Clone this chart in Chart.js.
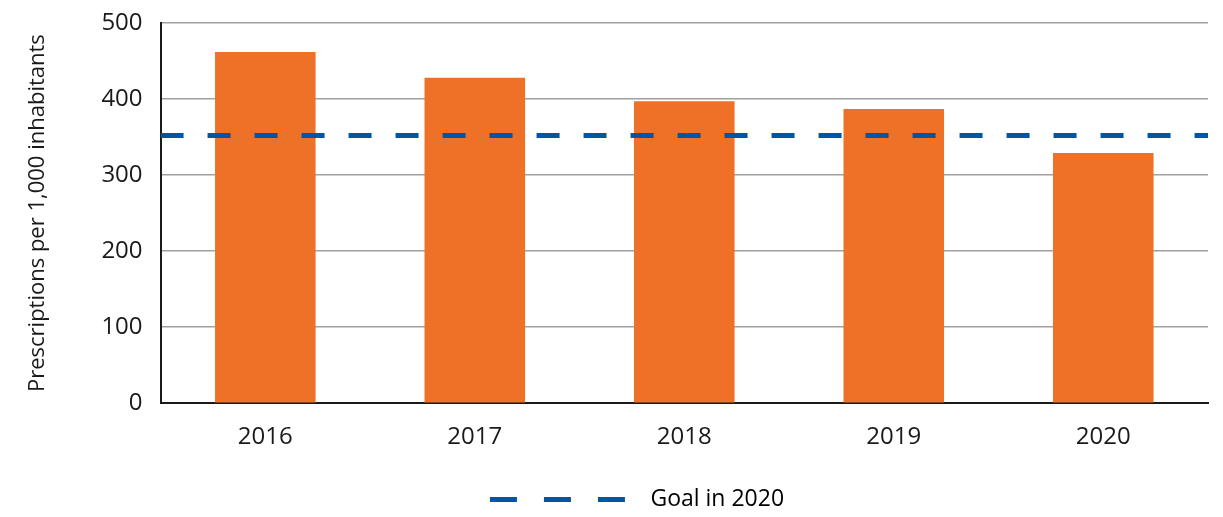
<!DOCTYPE html>
<html lang="en">
<head>
  <meta charset="UTF-8">
  <title>Prescriptions per 1,000 inhabitants</title>
  <style>
    html, body { margin: 0; padding: 0; background: #fff; }
    #wrap { width: 1223px; height: 517px; }
  </style>
</head>
<body>

<div id="wrap">
  <canvas id="myChart"></canvas>
</div>

<script src="https://cdn.jsdelivr.net/npm/chart.js"></script>

<script>
  const years = ['2016', '2017', '2018', '2019', '2020'];
  const prescriptions = [462, 428, 397, 387, 329];
  const goal2020 = 352;
  const yTicks = [0, 100, 200, 300, 400, 500];
  const goalLabel = 'Goal in 2020';
  const yTitle = 'Prescriptions per 1,000 inhabitants';

  const orange = '#ee7127';
  const blue = '#0055a4';
  const ink = '#1a1a1a';
  const tickFont = { family: 'Open Sans', size: 24 };

  const data = {
    labels: years,
    datasets: [
      {
        type: 'bar',
        label: 'Prescriptions',
        data: prescriptions,
        backgroundColor: orange,
        grouped: false,
        categoryPercentage: 1,
        barPercentage: 0.48,
        order: 2
      },
      {
        // goal spans the full plot width, so it sits on a hidden 0..1 axis
        type: 'line',
        label: goalLabel,
        xAxisID: 'x2',
        data: [{ x: 0, y: goal2020 }, { x: 1, y: goal2020 }],
        borderColor: blue,
        borderWidth: 5,
        borderDash: [23, 24],
        pointRadius: 0,
        fill: false,
        order: 1
      }
    ]
  };

  const ctx = document.getElementById('myChart').getContext('2d');
  const myChart = new Chart(ctx, {
    type: 'bar',
    data: data,
    options: {
      responsive: true,
      maintainAspectRatio: false,
      animation: false,
      layout: { padding: { top: 23, right: 15, left: 25, bottom: -4 } },
      scales: {
        x: {
          type: 'category',
          grid: { display: false },
          border: { color: ink, width: 2 },
          ticks: { color: ink, font: tickFont, padding: 12 },
          // extra room between the year labels and the legend
          afterFit: axis => { axis.height += 22; }
        },
        x2: {
          type: 'linear',
          min: 0,
          max: 1,
          offset: false,
          display: false
        },
        y: {
          min: 0,
          max: 500,
          afterBuildTicks: axis => { axis.ticks = yTicks.map(v => ({ value: v })); },
          // let the "500" label overhang the top instead of pushing the plot down
          afterFit: axis => { axis.paddingTop = 0; axis.paddingBottom = 0; },
          grid: { color: '#a0a0a0', lineWidth: 1.5, drawTicks: false },
          border: { color: ink, width: 2 },
          ticks: { color: ink, font: tickFont, padding: 18 },
          title: {
            display: true,
            text: yTitle,
            color: ink,
            font: { family: 'Open Sans', size: 22 },
            padding: { top: 0, bottom: 32 }
          }
        }
      },
      plugins: {
        tooltip: { enabled: false },
        legend: {
          position: 'bottom',
          labels: {
            color: ink,
            font: { family: 'Open Sans', size: 23 },
            usePointStyle: true,
            pointStyleWidth: 190,
            padding: 2,
            generateLabels: chart => [{
              text: goalLabel,
              pointStyle: 'line',
              strokeStyle: blue,
              fillStyle: blue,
              lineWidth: 5,
              lineDash: [27, 27, 27, 27, 27, 55],
              lineDashOffset: 149,
              datasetIndex: 1,
              hidden: false
            }]
          }
        }
      }
    }
  });
</script>
</body>
</html>
